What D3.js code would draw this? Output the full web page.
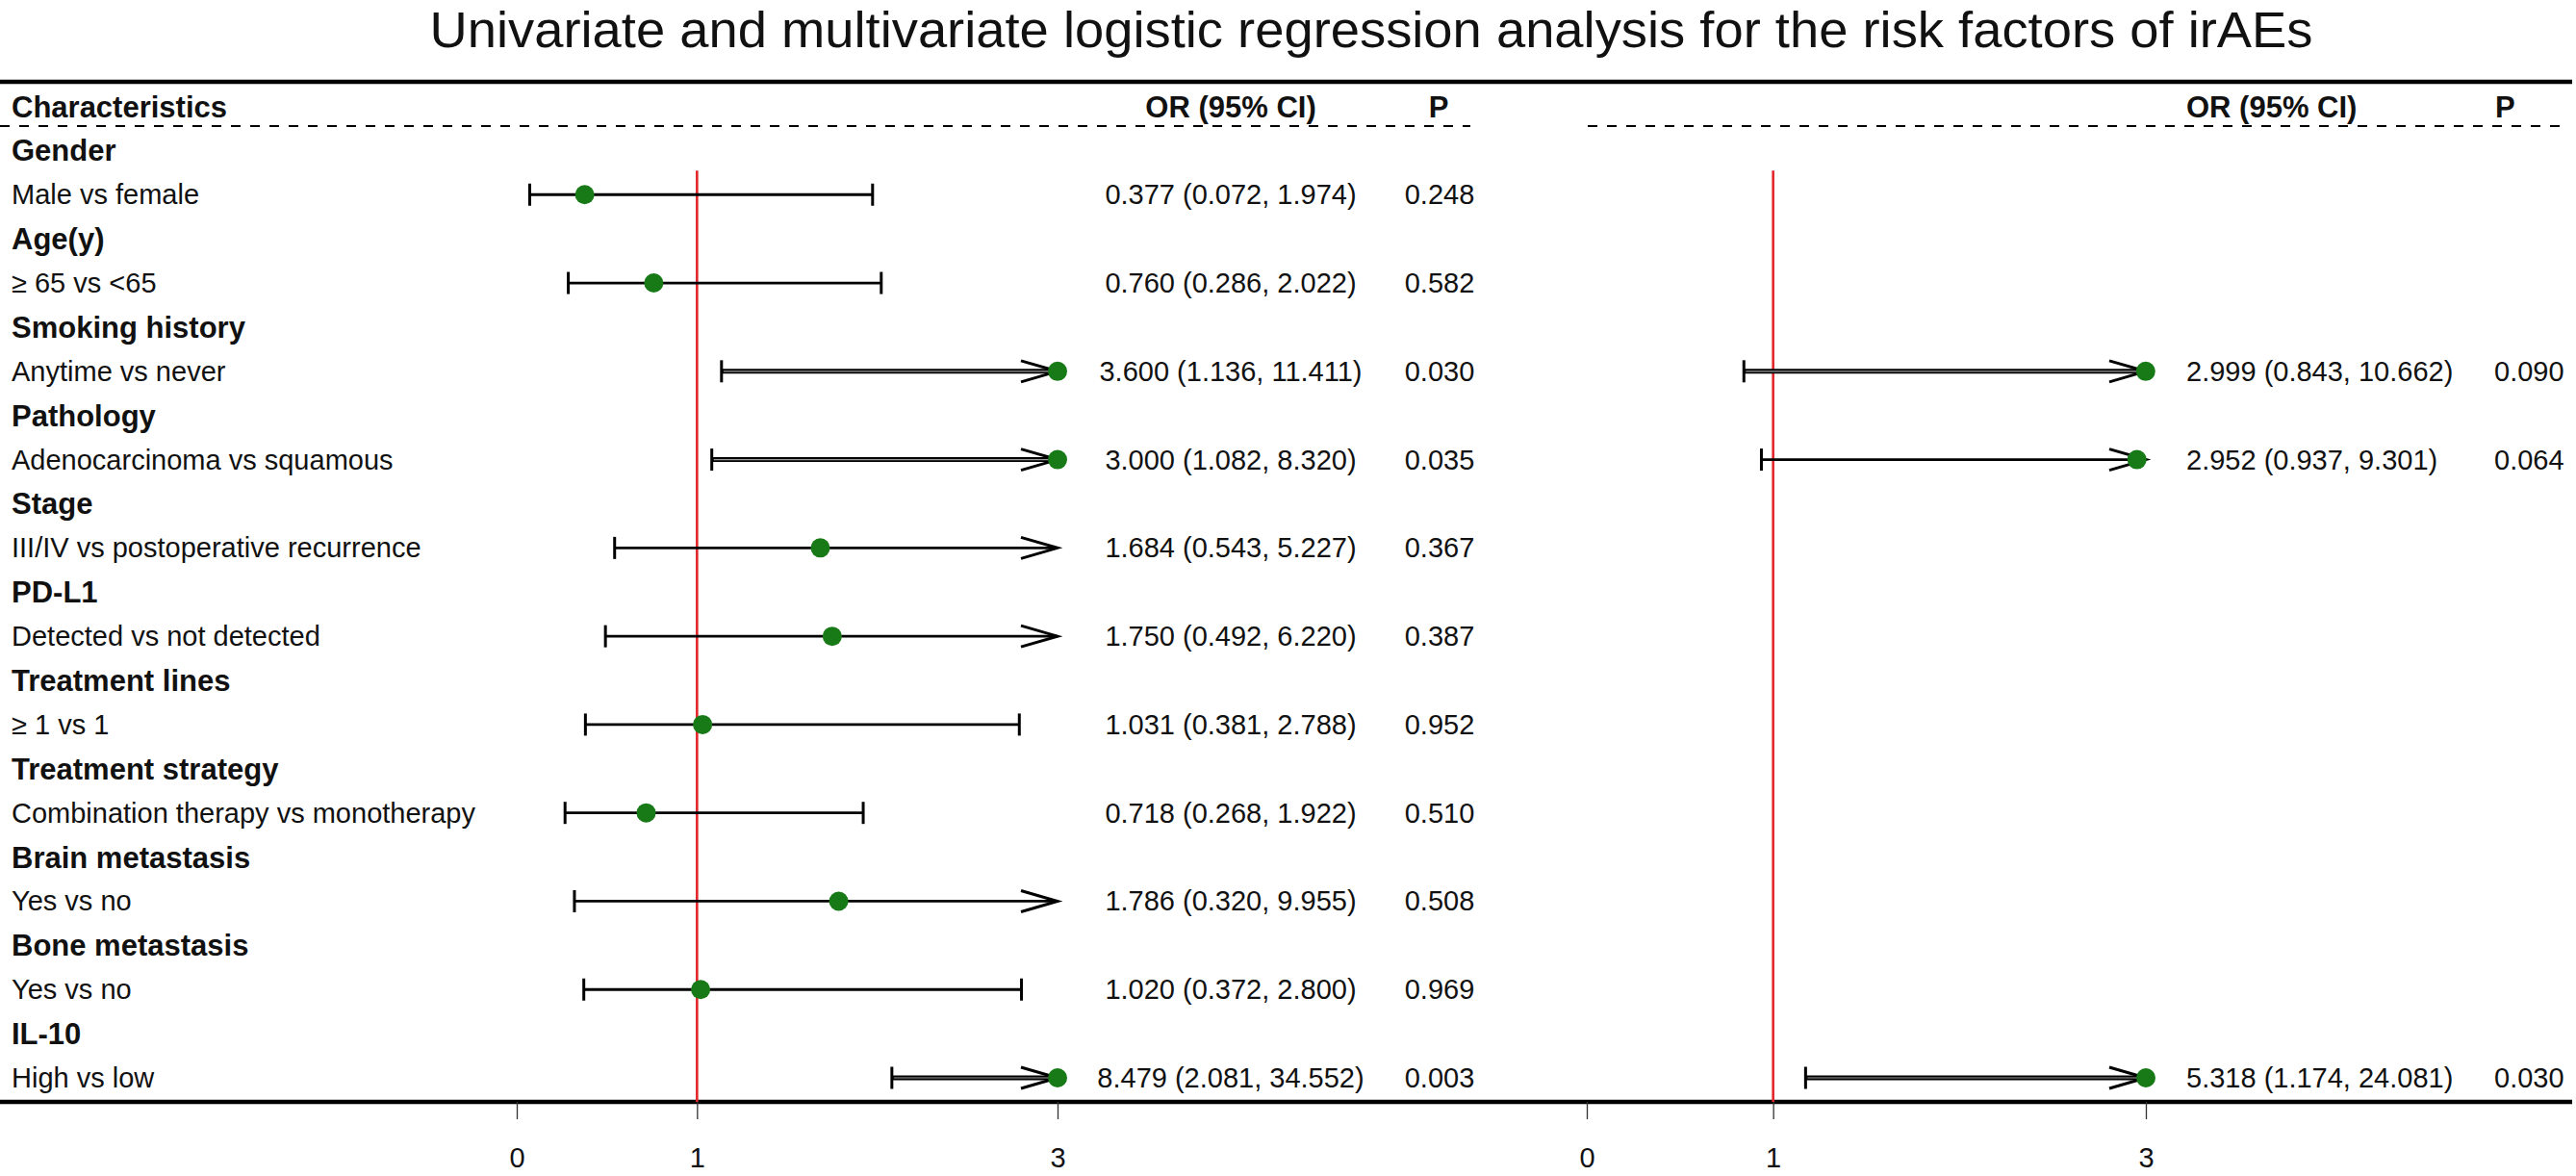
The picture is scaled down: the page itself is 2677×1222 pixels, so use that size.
<!DOCTYPE html>
<html>
<head>
<meta charset="utf-8">
<script src="https://cdn.jsdelivr.net/npm/d3@7"></script>
<style>
  html, body { margin: 0; padding: 0; background: #ffffff; }
  svg { display: block; }
  text { font-family: "Liberation Sans", Arial, Helvetica, sans-serif; fill: #111; }
</style>
</head>
<body>
<script>
// ---------------- DATA ----------------
const titleText = "Univariate and multivariate logistic regression analysis for the risk factors of irAEs";
const headerLabels = ["Characteristics", "OR (95% CI)", "P"];

const groupNames = ["Gender", "Age(y)", "Smoking history", "Pathology", "Stage", "PD-L1",
  "Treatment lines", "Treatment strategy", "Brain metastasis", "Bone metastasis", "IL-10"];
const comparisons = ["Male vs female", "\u2265 65 vs <65", "Anytime vs never", "Adenocarcinoma vs squamous",
  "III/IV vs postoperative recurrence", "Detected vs not detected", "\u2265 1 vs 1",
  "Combination therapy vs monotherapy", "Yes vs no", "Yes vs no", "High vs low"];

// Univariate analysis
const uniOR   = [0.377, 0.760, 3.600, 3.000, 1.684, 1.750, 1.031, 0.718, 1.786, 1.020, 8.479];
const uniLow  = [0.072, 0.286, 1.136, 1.082, 0.543, 0.492, 0.381, 0.268, 0.320, 0.372, 2.081];
const uniHigh = [1.974, 2.022, 11.411, 8.320, 5.227, 6.220, 2.788, 1.922, 9.955, 2.800, 34.552];
const uniP    = [0.248, 0.582, 0.030, 0.035, 0.367, 0.387, 0.952, 0.510, 0.508, 0.969, 0.003];

// Multivariate analysis (index into comparisons)
const mvIndex = [2, 3, 10];
const mvOR    = [2.999, 2.952, 5.318];
const mvLow   = [0.843, 0.937, 1.174];
const mvHigh  = [10.662, 9.301, 24.081];
const mvP     = [0.090, 0.064, 0.030];

const axisTicks = [0, 1, 3];
const xDomain = [0, 3];
const refValue = 1;

// ---------------- LAYOUT ----------------
const W = 2677, H = 1222;
const GREEN = "#177a17", RED = "#e3262b";
const svg = d3.select("body").append("svg").attr("width", W).attr("height", H);
svg.append("rect").attr("width", W).attr("height", H).attr("fill", "#fff");

const nRows = groupNames.length * 2;
const y = d3.scalePoint().domain(d3.range(-1, nRows)).range([110.5, 1120]);
const step = y.step();
const xL = d3.scaleLinear().domain(xDomain).range([537, 1099]);
const xR = d3.scaleLinear().domain(xDomain).range([1649, 2230]);

// Title: narrow-looking (glyphs compressed to the measured width)
svg.append("text").attr("x", 1425).attr("y", 49)
  .attr("text-anchor", "middle").style("font-size", "51px")
  .attr("textLength", 1957).attr("lengthAdjust", "spacingAndGlyphs")
  .text(titleText);

// Horizontal rules
const yTop = 85, yBot = 1145, yDash = 131;
svg.append("line").attr("x1", 0).attr("x2", 2673).attr("y1", yTop).attr("y2", yTop)
  .attr("stroke", "#000").attr("stroke-width", 4.5);
svg.append("line").attr("x1", 0).attr("x2", 2673).attr("y1", yBot).attr("y2", yBot)
  .attr("stroke", "#000").attr("stroke-width", 4.5);
[[0, 1528], [1650, 2662]].forEach(([a, b]) => {
  svg.append("line").attr("x1", a).attr("x2", b).attr("y1", yDash).attr("y2", yDash)
    .attr("stroke", "#000").attr("stroke-width", 2).attr("stroke-dasharray", "10,10");
});

// Header
const hy = y(-1) + 11;
svg.append("text").attr("x", 12).attr("y", hy).style("font-size", "31px").style("font-weight", "bold").text(headerLabels[0]);
svg.append("text").attr("x", 1279).attr("y", hy).attr("text-anchor", "middle").style("font-size", "31px").style("font-weight", "bold").text(headerLabels[1]);
svg.append("text").attr("x", 1495).attr("y", hy).attr("text-anchor", "middle").style("font-size", "31px").style("font-weight", "bold").text(headerLabels[2]);
svg.append("text").attr("x", 2272).attr("y", hy).style("font-size", "31px").style("font-weight", "bold").text(headerLabels[1]);
svg.append("text").attr("x", 2593).attr("y", hy).style("font-size", "31px").style("font-weight", "bold").text(headerLabels[2]);

// Row labels
groupNames.forEach((g, i) => {
  svg.append("text").attr("x", 12).attr("y", y(2 * i) + 11).style("font-size", "31px").style("font-weight", "bold").text(g);
  svg.append("text").attr("x", 12).attr("y", y(2 * i + 1) + 10).style("font-size", "29px").text(comparisons[i]);
});

// Reference lines
const lineTop = y(0) + step / 2 - 2;
[xL, xR].forEach(x => {
  svg.append("line").attr("x1", x(refValue)).attr("x2", x(refValue)).attr("y1", lineTop).attr("y2", yBot)
    .attr("stroke", RED).attr("stroke-width", 2.6);
});

const fmt = v => v.toFixed(3);

function drawCI(x, row, est, lo, hi) {
  const g = svg.append("g");
  const yy = y(row);
  const [d0, d1] = x.domain();
  const xe = x(Math.min(est, d1));
  const xl = x(Math.max(lo, d0));
  const xh = x(Math.min(hi, d1));
  const atLimit = est >= d1 - 0.01;
  if (atLimit) {
    g.append("line").attr("x1", xl).attr("x2", xh).attr("y1", yy).attr("y2", yy).attr("stroke", "#000").attr("stroke-width", 5);
    g.append("line").attr("x1", xl + 2).attr("x2", xh - 4).attr("y1", yy).attr("y2", yy).attr("stroke", "#9a9a9a").attr("stroke-width", 1.2);
  } else {
    g.append("line").attr("x1", xl).attr("x2", xh).attr("y1", yy).attr("y2", yy).attr("stroke", "#000").attr("stroke-width", 2.8);
  }
  g.append("line").attr("x1", xl).attr("x2", xl).attr("y1", yy - 11.5).attr("y2", yy + 11.5).attr("stroke", "#000").attr("stroke-width", 3);
  if (hi > d1) {
    g.append("polyline").attr("points", [[xh - 38, yy - 11], [xh, yy], [xh - 38, yy + 11]].map(p => p.join(",")).join(" "))
      .attr("fill", "none").attr("stroke", "#000").attr("stroke-width", 3);
  } else {
    g.append("line").attr("x1", xh).attr("x2", xh).attr("y1", yy - 11.5).attr("y2", yy + 11.5).attr("stroke", "#000").attr("stroke-width", 3);
  }
  g.append("circle").attr("cx", xe).attr("cy", yy).attr("r", 10).attr("fill", GREEN);
}

// Univariate
uniOR.forEach((or, i) => {
  const row = 2 * i + 1;
  drawCI(xL, row, or, uniLow[i], uniHigh[i]);
  svg.append("text").attr("x", 1279).attr("y", y(row) + 10).attr("text-anchor", "middle").style("font-size", "29px")
    .text(`${fmt(or)} (${fmt(uniLow[i])}, ${fmt(uniHigh[i])})`);
  svg.append("text").attr("x", 1496).attr("y", y(row) + 10).attr("text-anchor", "middle").style("font-size", "29px")
    .text(fmt(uniP[i]));
});

// Multivariate
mvIndex.forEach((ci, j) => {
  const row = 2 * ci + 1;
  drawCI(xR, row, mvOR[j], mvLow[j], mvHigh[j]);
  svg.append("text").attr("x", 2272).attr("y", y(row) + 10).style("font-size", "29px")
    .text(`${fmt(mvOR[j])} (${fmt(mvLow[j])}, ${fmt(mvHigh[j])})`);
  svg.append("text").attr("x", 2592).attr("y", y(row) + 10).style("font-size", "29px")
    .text(fmt(mvP[j]));
});

// Axes
[xL, xR].forEach(x => {
  const ax = svg.append("g").attr("transform", `translate(0,${yBot})`)
    .call(d3.axisBottom(x).tickValues(axisTicks).tickSize(18).tickPadding(29).tickFormat(d3.format("d")));
  ax.select(".domain").remove();
  ax.selectAll(".tick line").attr("stroke", "#333").attr("stroke-width", 1.3);
  ax.selectAll(".tick text").style("font-size", "29px").style("font-family", "'Liberation Sans', Arial, sans-serif").attr("fill", "#111");
});
</script>
</body>
</html>
